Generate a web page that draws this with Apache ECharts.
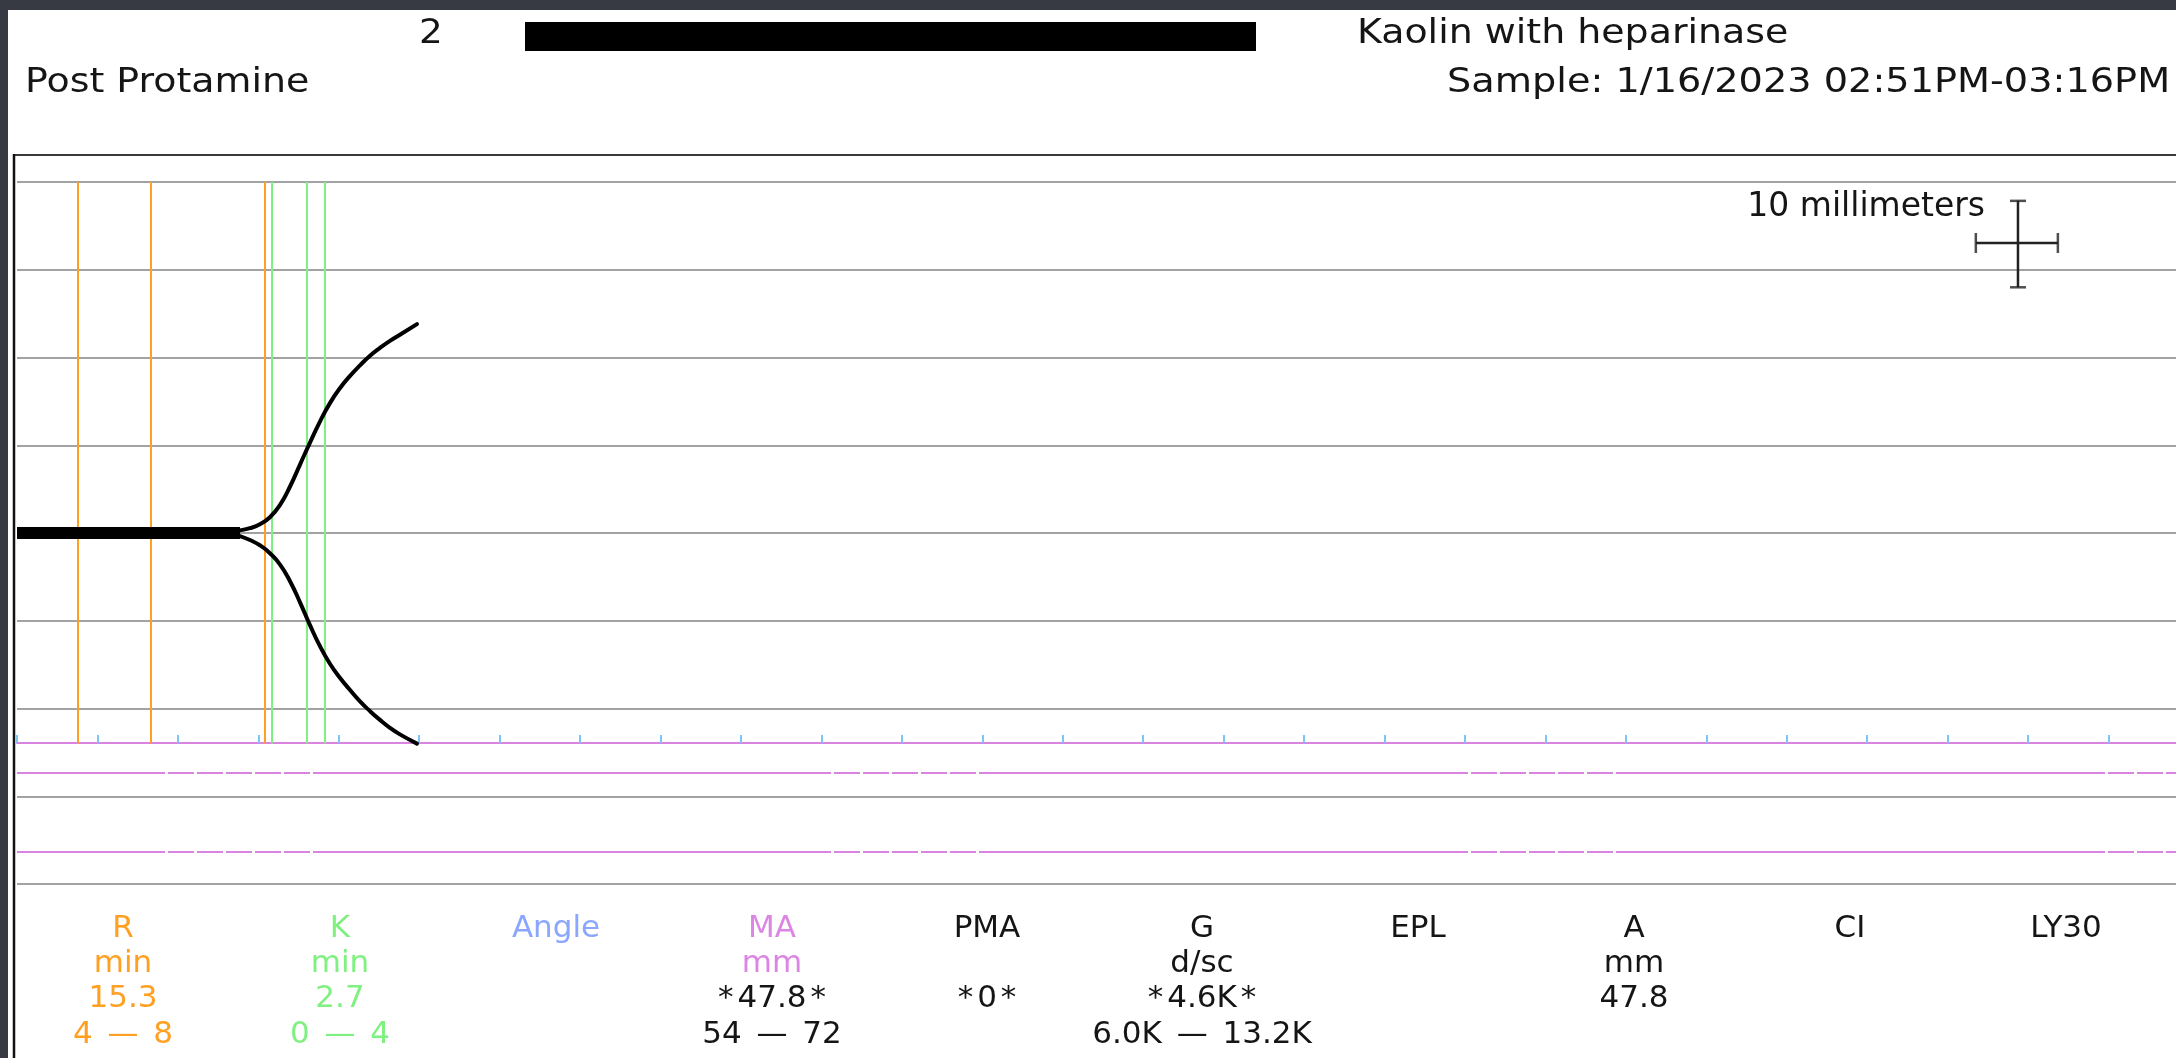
<!DOCTYPE html>
<html>
<head>
<meta charset="utf-8">
<script src="https://cdn.jsdelivr.net/npm/echarts@6/dist/echarts.min.js"></script>
<style>
html,body{margin:0;padding:0;background:#ffffff;}
#chart{width:2176px;height:1058px;}
</style>
</head>
<body>
<div id="chart"></div>
<script>
// ---------- DATA ----------
// Tracing (time in minutes, amplitude in mm)
const baseTime = [0, 13.86];
const baseMm = [0, 0];
const curveTime = [13.86, 14.48, 15.10, 15.72, 16.35, 16.97, 17.59, 18.21, 18.83, 19.45, 20.07, 20.70, 21.32, 21.94, 22.56, 23.18, 23.80, 24.86];
const upperMm  = [0.3, 0.55, 1.0, 1.8, 3.2, 5.3, 7.8, 10.3, 12.7, 14.8, 16.5, 17.9, 19.1, 20.2, 21.1, 21.9, 22.6, 23.8];
const lowerMm  = [-0.35, -0.8, -1.4, -2.3, -3.6, -5.5, -7.9, -10.5, -12.9, -14.9, -16.5, -17.9, -19.2, -20.3, -21.3, -22.2, -22.95, -24.0];
// Marker lines (minutes)
const rLines = [3.8, 8.3, 15.4];
const kLines = [15.85, 18.0, 19.1];
const markerSpanMm = [40, -24];
// MA normal-range lines (mm)
const maRangeMm = [-27.3, -36.3];
// Scale cross: 5 min x 10 mm
const crossTime = [121.75, 124.37, 126.85];
const crossMm = [28.0, 33.05, 37.85];
// Parameter table
const paramNames  = ['R', 'K', 'Angle', 'MA', 'PMA', 'G', 'EPL', 'A', 'CI', 'LY30'];
const paramUnits  = ['min', 'min', '', 'mm', '', 'd/sc', '', 'mm', '', ''];
const paramValues = ['15.3', '2.7', '', '*47.8*', '*0*', '*4.6K*', '', '47.8', '', ''];
const paramRanges = ['4 \u2014 8', '0 \u2014 4', '', '54 \u2014 72', '', '6.0K \u2014 13.2K', '', '', '', ''];
// Header texts
const headerNumber = '2';
const headerTest = 'Kaolin with heparinase';
const headerLabel = 'Post Protamine';
const headerSample = 'Sample: 1/16/2023 02:51PM-03:16PM';
const scaleLabel = '10 millimeters';

// ---------- STYLES / LAYOUT ----------
const FONT = '"DejaVu Sans", Verdana, sans-serif';
const ORANGE = '#ffa023';
const GREEN = '#80f080';
const BLUE = '#8aa6ff';
const VIOLET = '#dc86e4';
const MAGENTA = '#da84e2';
const TICKBLUE = '#7cc6f4';
const GRAY = '#a2a2a2';
const TXT = '#151515';
const colCenters = [123, 340, 556, 772, 987, 1202, 1418, 1634, 1850, 2066];
const rowBaselines = [939, 974, 1009, 1045];
const nameColors  = [ORANGE, GREEN, BLUE, VIOLET, TXT, TXT, TXT, TXT, TXT, TXT];
const unitColors  = [ORANGE, GREEN, BLUE, VIOLET, TXT, TXT, TXT, TXT, TXT, TXT];
const valueColors = [ORANGE, GREEN, BLUE, TXT, TXT, TXT, TXT, TXT, TXT, TXT];
const rangeColors = [ORANGE, GREEN, BLUE, TXT, TXT, TXT, TXT, TXT, TXT, TXT];

function txt(text, x, baseline, size, color, align, sx) {
  const y = baseline - Math.round(size * 0.32);
  const font = size + 'px ' + FONT;
  const richText = text.replace(/\*/g, '{a|*}').replace(/\u2014/g, '{d|\u2014}');
  return {
    type: 'text', silent: true, z: 100,
    x: x, y: y, scaleX: sx || 1, scaleY: 1,
    style: {
      text: richText, x: 0, y: 0,
      font: font,
      fill: color,
      rich: {
        a: { font: font, fill: color, padding: [0, 4, 0, 4] },
        d: { font: font, fill: color, padding: [0, 5, 0, 5] }
      },
      textAlign: align || 'left', align: align || 'left',
      textVerticalAlign: 'middle', verticalAlign: 'middle'
    }
  };
}

const graphics = [
  { type: 'rect', silent: true, z: 90, shape: { x: 0, y: 0, width: 2176, height: 10 }, style: { fill: '#373a42' } },
  { type: 'rect', silent: true, z: 90, shape: { x: 0, y: 0, width: 8, height: 1058 }, style: { fill: '#373a42' } },
  { type: 'line', silent: true, z: 90, shape: { x1: 14, y1: 155, x2: 2176, y2: 155 }, style: { stroke: '#3a3a3a', lineWidth: 2 } },
  { type: 'line', silent: true, z: 90, shape: { x1: 14, y1: 154, x2: 14, y2: 1058 }, style: { stroke: '#111', lineWidth: 2.5 } },
  { type: 'rect', silent: true, z: 90, shape: { x: 525, y: 22, width: 731, height: 29 }, style: { fill: '#000' } },
  txt(headerNumber, 419, 45, 34, TXT, 'left', 1.1),
  txt(headerTest, 1357, 45, 34, TXT, 'left', 1.115),
  txt(headerLabel, 25, 94, 34, TXT, 'left', 1.115),
  txt(headerSample, 1447, 94, 34, TXT, 'left', 1.125),
  txt(scaleLabel, 1985, 218, 33, TXT, 'right')
];
paramNames.forEach((n, i) => {
  const cx = colCenters[i];
  graphics.push(txt(n, cx, rowBaselines[0], 31, nameColors[i], 'center'));
  if (paramUnits[i]) graphics.push(txt(paramUnits[i], cx, rowBaselines[1], 31, unitColors[i], 'center'));
  if (paramValues[i]) graphics.push(txt(paramValues[i], cx, rowBaselines[2], 31, valueColors[i], 'center'));
  if (paramRanges[i]) graphics.push(txt(paramRanges[i], cx, rowBaselines[3], 31, rangeColors[i], 'center'));
});

const zip = (a, b) => a.map((v, i) => [v, b[i]]);
const vLines = (arr) => arr.map(t => [{ coord: [t, markerSpanMm[0]] }, { coord: [t, markerSpanMm[1]] }]);
const dashRun = [3, 26, 3, 26, 3, 26, 3, 26, 3, 26, 3];
const maDash = [148].concat(dashRun, [518], dashRun, [489], dashRun, [489], dashRun, [3000, 0]);

const option = {
  animation: false,
  backgroundColor: '#ffffff',
  grid: { left: 17, top: 182, width: 2172, height: 702, outerBoundsMode: 'none', containLabel: false, show: false },
  xAxis: {
    type: 'value', min: 0, max: 135, interval: 5,
    offset: -141,
    axisLine: { show: true, onZero: false, lineStyle: { color: MAGENTA, width: 2 } },
    axisTick: { show: true, inside: true, length: 8, lineStyle: { color: TICKBLUE, width: 2 } },
    axisLabel: { show: false },
    splitLine: { show: false }
  },
  yAxis: {
    type: 'value', min: -40, max: 40, interval: 10,
    axisLine: { show: false }, axisTick: { show: false }, axisLabel: { show: false },
    splitLine: { show: true, lineStyle: { color: GRAY, width: 2 } }
  },
  graphic: graphics,
  series: [
    {
      name: 'markers', type: 'line', data: [], silent: true, z: 2,
      markLine: {
        silent: true, symbol: 'none', animation: false,
        label: { show: false },
        lineStyle: { color: ORANGE, width: 2, type: 'solid' },
        data: vLines(rLines)
      }
    },
    {
      name: 'kmarkers', type: 'line', data: [], silent: true, z: 2,
      markLine: {
        silent: true, symbol: 'none', animation: false,
        label: { show: false },
        lineStyle: { color: GREEN, width: 2, type: 'solid' },
        data: vLines(kLines)
      }
    },
    {
      name: 'maRange', type: 'line', data: [], silent: true, z: 2,
      markLine: {
        silent: true, symbol: 'none', animation: false,
        label: { show: false },
        lineStyle: { color: MAGENTA, width: 2, type: maDash, dashOffset: 0 },
        data: maRangeMm.map(v => ({ yAxis: v }))
      }
    },
    {
      name: 'baseline', type: 'line', silent: true, z: 5, symbol: 'none',
      data: zip(baseTime, baseMm),
      lineStyle: { color: '#000', width: 12, cap: 'butt' }
    },
    {
      name: 'upper', type: 'line', silent: true, z: 5, symbol: 'none', smooth: 0.5,
      data: zip(curveTime, upperMm),
      lineStyle: { color: '#000', width: 4, cap: 'round' }
    },
    {
      name: 'lower', type: 'line', silent: true, z: 5, symbol: 'none', smooth: 0.5,
      data: zip(curveTime, lowerMm),
      lineStyle: { color: '#000', width: 4, cap: 'round' }
    },
    {
      name: 'crossV', type: 'line', silent: true, z: 6, symbol: 'none',
      data: [[crossTime[1], crossMm[0]], [crossTime[1], crossMm[2]]],
      lineStyle: { color: '#222', width: 2.5 }
    },
    {
      name: 'crossH', type: 'line', silent: true, z: 6, symbol: 'none',
      data: [[crossTime[0], crossMm[1]], [crossTime[2], crossMm[1]]],
      lineStyle: { color: '#222', width: 2.5 }
    },
    {
      name: 'crossCapV', type: 'scatter', silent: true, z: 6, symbol: 'rect', symbolSize: [16, 2.5],
      itemStyle: { color: '#222' },
      data: [[crossTime[1], crossMm[0]], [crossTime[1], crossMm[2]]]
    },
    {
      name: 'crossCapH', type: 'scatter', silent: true, z: 6, symbol: 'rect', symbolSize: [2.5, 20],
      itemStyle: { color: '#222' },
      data: [[crossTime[0], crossMm[1]], [crossTime[2], crossMm[1]]]
    }
  ]
};

const chart = echarts.init(document.getElementById('chart'), null, { renderer: 'canvas' });
chart.setOption(option);
</script>
</body>
</html>
